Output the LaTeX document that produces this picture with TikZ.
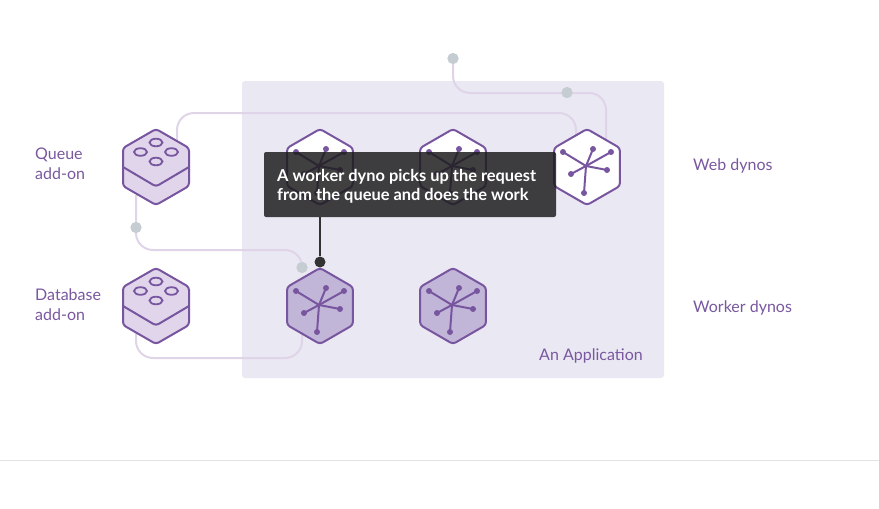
\documentclass[tikz,border=0pt]{standalone}
\usepackage{fontspec}
\setmainfont{Lato}
\usetikzlibrary{shapes.geometric}
\definecolor{hkpurple}{HTML}{77559F}
\definecolor{hklabel}{HTML}{79589F}
\definecolor{hkpanel}{HTML}{EAE8F3}
\definecolor{hkwire}{HTML}{E0D4E8}
\definecolor{hkdot}{HTML}{C5CDD3}
\definecolor{hkface}{HTML}{E0D5EA}
\definecolor{hkworker}{HTML}{C2B6D8}
\definecolor{hktip}{HTML}{1C1C1C}
\tikzset{
  x=1pt, y=-1pt,
  dynobox/.style={regular polygon, regular polygon sides=6, shape border rotate=30, minimum size=76pt,
    inner sep=0pt, outer sep=0pt, draw=hkpurple, line width=2pt, rounded corners=3pt},
  wire/.style={draw=hkwire, line width=2pt, rounded corners=17pt},
  greydot/.style={circle, fill=hkdot, inner sep=0pt, minimum size=11pt},
  label/.style={text=hklabel, font=\fontsize{16}{20}\selectfont, align=left, anchor=west, inner sep=0pt},
  spoke/.style={draw=hkpurple, line width=2pt},
  pics/star/.style={code={
    \foreach \ex/\ey in {-24/-15, 6/-18, 24/-15, 20/3, -16/7, -3/26}{
      \draw[spoke] (-1,-1) -- (\ex,\ey);
      \fill[hkpurple] (\ex,\ey) circle[radius=3];
    }
  }},
  pics/addon/.style={code={
    % silhouette, the edge of the upper face, and its four studs
    \draw[draw=hkpurple, fill=hkface, line width=2pt, rounded corners=3pt]
      (0,-38) -- (33,-19) -- (33,19) -- (0,38) -- (-33,19) -- (-33,-19) -- cycle;
    \draw[draw=hkpurple, line width=2pt, rounded corners=3pt]
      (-33,0) -- (0,19.5) -- (33,0);
    \foreach \sx/\sy in {0/-24.5, -15.5/-15, 15.5/-15, 0/-5.5}{
      \draw[draw=hkpurple, line width=1.8pt] (\sx,\sy) ellipse[x radius=6.5, y radius=3.8];
    }
  }},
}
\begin{document}
\begin{tikzpicture}
\useasboundingbox (0,0) rectangle (879,509);
\fill[white] (0,0) rectangle (879,509);

% application panel and page rule
\fill[hkpanel, rounded corners=3pt] (242,81) rectangle (664,378);
\draw[draw=black!11, line width=1pt] (0,460.5) -- (879,460.5);

% anchor points for the connectors
\coordinate (queueOut) at (177,140);
\coordinate (webIn) at (576,135);
\coordinate (webOut) at (606,140);
\coordinate (queueDown) at (136,195);
\coordinate (dbDown) at (136,330);
\coordinate (workerOut) at (302,330);
\node[greydot] (dotTop) at (453,58.5) {};
\node[greydot] (dotWeb) at (567,92.5) {};
\node[greydot] (dotQueue) at (136,227.5) {};
\node[greydot] (dotWorker) at (302,267.5) {};

% connectors
\draw[wire] (queueOut) -- (177,113) -- (576,113) -- (webIn);
\draw[wire] (dotTop) -- (453,93) -- (606,93) -- (webOut);
\draw[wire] (queueDown) -- (136,250) -- (302,250) -- (dotWorker);
\draw[wire] (dbDown) -- (136,358) -- (302,358) -- (workerOut);
\node[greydot] at (dotTop) {};
\node[greydot] at (dotWeb) {};
\node[greydot] at (dotQueue) {};
\node[greydot] at (dotWorker) {};

% add-ons
\pic (queue) at (156,167) {addon};
\pic (database) at (156,306) {addon};

% web dynos
\node[dynobox, fill=white] (webA) at (320,167) {};
\node[dynobox, fill=white] (webB) at (453,167) {};
\node[dynobox, fill=white] (webC) at (587,167) {};
\pic at (webA) {star};
\pic at (webB) {star};
\pic at (webC) {star};

% worker dynos
\node[dynobox, fill=hkworker] (workerA) at (320,306) {};
\node[dynobox, fill=hkworker] (workerB) at (453,306) {};
\pic at (workerA) {star};
\pic at (workerB) {star};

% tooltip pointing at the active worker
\node[circle, fill=black!80, inner sep=0pt, minimum size=11pt] (pin) at (320,262) {};
\fill[hktip, opacity=.84, rounded corners=2pt] (264,152) rectangle (556,217);
\coordinate (tipFoot) at (320,217);
\draw[black!80, line width=2pt] (tipFoot) -- (pin);
\node[text=white, font=\bfseries\fontsize{16.4}{19}\selectfont, align=left, anchor=north west, inner sep=0pt]
  (tip) at (277,169) {A worker dyno picks up the request\\from the queue and does the work};

% labels
\node[label] (lblQueue) at (35,164) {Queue\\add-on};
\node[label] (lblDb) at (35,305) {Database\\add-on};
\node[label] (lblWeb) at (693,166) {Web dynos};
\node[label] (lblWorker) at (693,308) {Worker dynos};
\node[label] (lblApp) at (539,356) {An Application};
\end{tikzpicture}
\end{document}
